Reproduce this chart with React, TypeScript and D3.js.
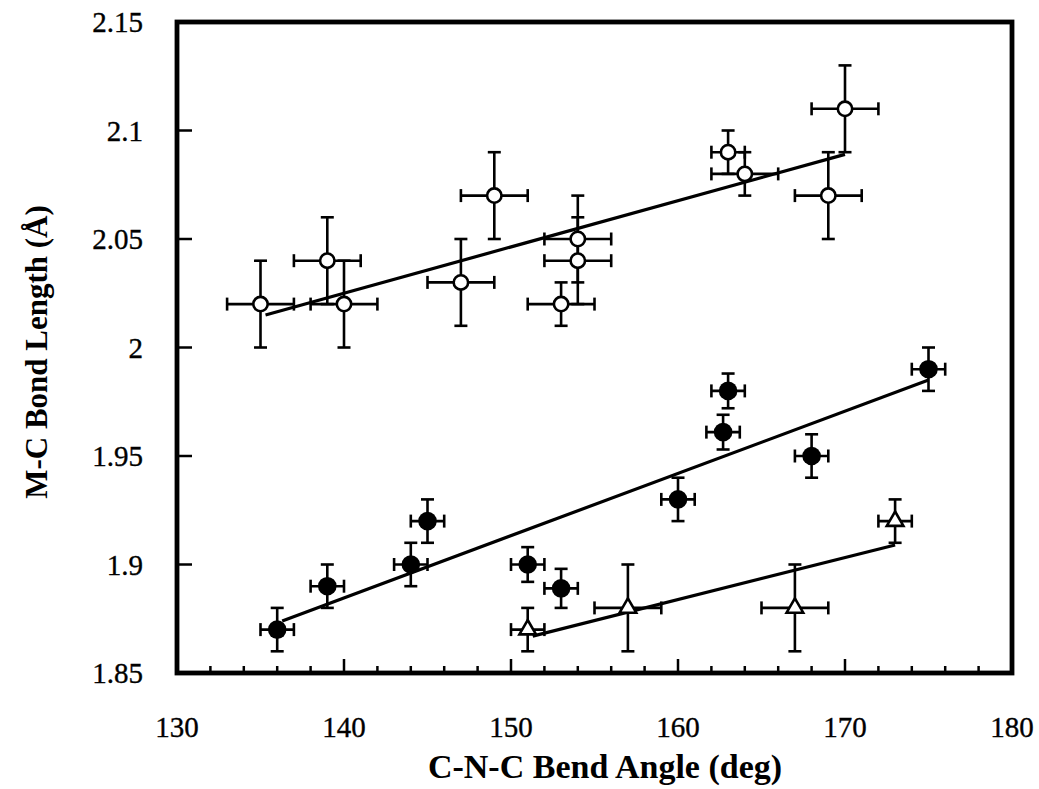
import React from 'react';
import * as d3 from 'd3';

// Open circles
const openX = [135, 139, 140, 147, 149, 153, 154, 154, 163, 164, 169, 170];
const openY = [2.02, 2.04, 2.02, 2.03, 2.07, 2.02, 2.05, 2.04, 2.09, 2.08, 2.07, 2.11];
const openXErr = [2, 2, 2, 2, 2, 2, 2, 2, 1, 2, 2, 2];
const openYErr = [0.02, 0.02, 0.02, 0.02, 0.02, 0.01, 0.02, 0.02, 0.01, 0.01, 0.02, 0.02];

// Filled circles
const filledX = [136, 139, 144, 145, 151, 153, 160, 162.7, 163, 168, 175];
const filledY = [1.87, 1.89, 1.9, 1.92, 1.9, 1.889, 1.93, 1.961, 1.98, 1.95, 1.99];
const filledXErr = [1, 1, 1, 1, 1, 1, 1, 1, 1, 1, 1];
const filledYErr = [0.01, 0.01, 0.01, 0.01, 0.008, 0.009, 0.01, 0.008, 0.008, 0.01, 0.01];

// Open triangles
const triX = [151, 157, 167, 173];
const triY = [1.87, 1.88, 1.88, 1.92];
const triXErr = [1, 2, 2, 1];
const triYErr = [0.01, 0.02, 0.02, 0.01];

// Fit lines (x, y endpoints)
const openFitX = [135.3, 170];
const openFitY = [2.015, 2.089];
const filledFitX = [136.3, 175];
const filledFitY = [1.874, 1.985];
const triFitX = [151.3, 173];
const triFitY = [1.867, 1.909];

const xMajorTicks = [130, 140, 150, 160, 170, 180];
const xMinorTicks = d3.range(132, 180, 2).filter((v) => v % 10 !== 0);
const yTicks = [1.85, 1.9, 1.95, 2, 2.05, 2.1, 2.15];
const yTickLabels = ['1.85', '1.9', '1.95', '2', '2.05', '2.1', '2.15'];

const xTitle = 'C-N-C Bend Angle (deg)';
const yTitle = 'M-C Bond Length (Å)';

const W = 1039;
const H = 789;
const left = 177;
const right = 1012;
const top = 22;
const bottom = 673;

const FONT = '"Liberation Serif", "Times New Roman", serif';

export default function App() {
  const x = d3.scaleLinear().domain([130, 180]).range([left, right]);
  const y = d3.scaleLinear().domain([1.85, 2.15]).range([bottom, top]);
  const line = d3.line<[number, number]>().x((d) => x(d[0])).y((d) => y(d[1]));
  const cap = 6.5;
  const ebStroke = 2.6;

  const errorBars = (xs: number[], ys: number[], xe: number[], ye: number[], key: string) =>
    xs.map((xv, i) => {
      const cx = x(xv);
      const cy = y(ys[i]);
      const x0 = x(xv - xe[i]);
      const x1 = x(xv + xe[i]);
      const y0 = y(ys[i] - ye[i]);
      const y1 = y(ys[i] + ye[i]);
      return (
        <g key={key + i} stroke="#000" strokeWidth={ebStroke} fill="none">
          <line x1={x0} x2={x1} y1={cy} y2={cy} />
          <line x1={cx} x2={cx} y1={y0} y2={y1} />
          <line x1={x0} x2={x0} y1={cy - cap} y2={cy + cap} />
          <line x1={x1} x2={x1} y1={cy - cap} y2={cy + cap} />
          <line x1={cx - cap} x2={cx + cap} y1={y0} y2={y0} />
          <line x1={cx - cap} x2={cx + cap} y1={y1} y2={y1} />
        </g>
      );
    });

  const tri = d3.symbol().type(d3.symbolTriangle).size(120)();

  return (
    <svg
      width={W}
      height={H}
      style={{ position: 'absolute', left: 0, top: 0, background: '#fff' }}
      fontFamily={FONT}
    >
      <rect x={0} y={0} width={W} height={H} fill="#fff" />
      {/* fit lines */}
      <path d={line(openFitX.map((v, i) => [v, openFitY[i]]) as any) || ''} stroke="#000" strokeWidth={3.2} fill="none" />
      <path d={line(filledFitX.map((v, i) => [v, filledFitY[i]]) as any) || ''} stroke="#000" strokeWidth={3.2} fill="none" />
      <path d={line(triFitX.map((v, i) => [v, triFitY[i]]) as any) || ''} stroke="#000" strokeWidth={3.2} fill="none" />

      {errorBars(openX, openY, openXErr, openYErr, 'o')}
      {errorBars(filledX, filledY, filledXErr, filledYErr, 'f')}
      {errorBars(triX, triY, triXErr, triYErr, 't')}

      {openX.map((v, i) => (
        <circle key={'oc' + i} cx={x(v)} cy={y(openY[i])} r={7.2} fill="#fff" stroke="#000" strokeWidth={2.6} />
      ))}
      {filledX.map((v, i) => (
        <circle key={'fc' + i} cx={x(v)} cy={y(filledY[i])} r={9.3} fill="#000" />
      ))}
      {triX.map((v, i) => (
        <path key={'tc' + i} d={tri || ''} transform={`translate(${x(v)},${y(triY[i])})`} fill="#fff" stroke="#000" strokeWidth={2.6} />
      ))}

      {/* ticks */}
      {xMajorTicks.map((v) => (
        <line key={'xM' + v} x1={x(v)} x2={x(v)} y1={bottom} y2={bottom - 14} stroke="#000" strokeWidth={2.5} />
      ))}
      {xMinorTicks.map((v) => (
        <line key={'xm' + v} x1={x(v)} x2={x(v)} y1={bottom} y2={bottom - 7} stroke="#000" strokeWidth={2.5} />
      ))}
      {yTicks.map((v) => (
        <line key={'yM' + v} x1={left} x2={left + 15} y1={y(v)} y2={y(v)} stroke="#000" strokeWidth={2.5} />
      ))}

      {/* frame */}
      <rect x={left} y={top} width={right - left} height={bottom - top} fill="none" stroke="#000" strokeWidth={4.8} />

      {/* tick labels */}
      {xMajorTicks.map((v) => (
        <text key={'xl' + v} x={x(v)} y={737} textAnchor="middle" fontSize={29} fill="#000" stroke="#000" strokeWidth={0.35}>
          {v}
        </text>
      ))}
      {yTicks.map((v, i) => (
        <text key={'yl' + v} x={143} y={y(v)} dy="0.35em" textAnchor="end" fontSize={29} fill="#000" stroke="#000" strokeWidth={0.35}>
          {yTickLabels[i]}
        </text>
      ))}

      {/* titles */}
      <text x={605} y={778} textAnchor="middle" fontSize={34} fontWeight="bold" fill="#000">
        {xTitle}
      </text>
      <text
        transform={`translate(47, 352) rotate(-90)`}
        textAnchor="middle"
        fontSize={31}
        fontWeight="bold"
        fill="#000"
      >
        {yTitle}
      </text>
    </svg>
  );
}
